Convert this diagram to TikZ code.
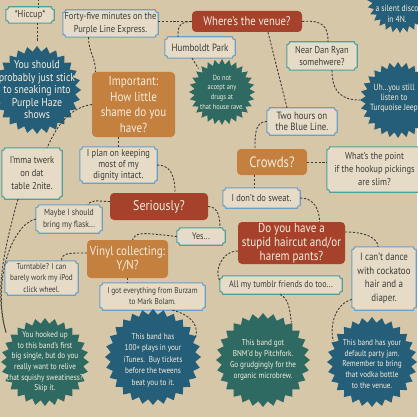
\documentclass[tikz,border=0pt]{standalone}
\usepackage{fontspec}
\setmainfont{PT Sans}[FakeStretch=0.85]
\usetikzlibrary{calc}
\definecolor{paper}{RGB}{214,199,168}
\definecolor{boxfill}{RGB}{229,219,198}
\definecolor{ink}{RGB}{62,60,57}
\definecolor{cream}{RGB}{246,238,222}
\definecolor{redbox}{RGB}{166,66,44}
\definecolor{orangebox}{RGB}{196,128,62}
\definecolor{tealseal}{RGB}{46,106,98}
\definecolor{blueseal}{RGB}{37,94,120}
\definecolor{blueb}{RGB}{108,160,200}
\definecolor{tealb}{RGB}{78,160,158}
\pgfdeclarelayer{paperlayer}
\pgfdeclarelayer{bg}
\pgfsetlayers{paperlayer,bg,main}
\newcommand{\fs}[2]{\fontsize{#1}{#2}\selectfont}
\newcommand{\ticket}[2]{%
\begin{pgfonlayer}{bg}
\draw[line width=1.1pt, draw=#2, fill=boxfill]
  ([xshift=3pt]#1.north west) -- ([xshift=-3pt]#1.north east)
  arc[start angle=180,end angle=270,radius=3pt]
  -- ([yshift=3pt]#1.south east)
  arc[start angle=90,end angle=180,radius=3pt]
  -- ([xshift=3pt]#1.south west)
  arc[start angle=0,end angle=90,radius=3pt]
  -- ([yshift=-3pt]#1.north west)
  arc[start angle=270,end angle=360,radius=3pt] -- cycle;
\end{pgfonlayer}}
\newcommand{\sealshape}[4]{%
\fill[#4, shift={(#1,#2)}] (0:#3) \foreach \i in {1,...,55} { -- ({\i*6.428571}:{#3-5.5*mod(\i,2)}) } -- cycle;}
\begin{document}
\begin{tikzpicture}[x=1pt,y=-1pt,
  lbox/.style={inner sep=0pt, align=center, text=ink},
  cbox/.style={rounded corners=4pt, fill=#1, inner sep=0pt, align=center, text=cream},
  stext/.style={circle, inner sep=0pt, align=center, text=cream},
  conn/.style={draw=ink, line width=0.9pt, dash pattern=on 2.2pt off 1.6pt}]
\begin{pgfonlayer}{paperlayer}
\fill[paper] (0,0) rectangle (417,417);
\end{pgfonlayer}
\useasboundingbox (0,0) rectangle (417,417);

% seals
\sealshape{37}{90}{44}{blueseal}
\node[stext, minimum size=88pt, font=\fs{11.5}{12.5}] (ph) at (37,90) {You should\\probably just stick\\to sneaking into\\Purple Haze\\shows};
\sealshape{222}{92}{33}{tealseal}
\node[stext, minimum size=66pt, font=\fs{7.5}{9.7}] (drugs) at (222,92) {Do not\\accept any\\drugs at\\that house rave.};
\sealshape{400}{0}{33}{blueseal}
\node[inner sep=0pt, align=center, text=cream, font=\fs{9}{11}] (disco) at (397,8) {Time for\\a silent disco\\in 4N.};
\sealshape{398}{100}{38}{blueseal}
\node[stext, minimum size=76pt] (turq) at (398,100) {};
\node[inner sep=0pt, align=center, text=cream, font=\fs{9}{10}] (turqtext) at (394,98) {Uh...you still\\listen to\\Turquoise Jeep};
\sealshape{45}{362}{44}{tealseal}
\node[stext, minimum size=88pt, font=\fs{8.5}{10.6}] (hooked) at (45,362) {You hooked up\\to this band's first\\big single, but do you\\really want to relive\\that squishy sweatiness?\\Skip it.};
\sealshape{153}{357}{48}{blueseal}
\node[stext, minimum size=96pt, font=\fs{8.5}{11.5}] (plays) at (153,360) {This band has\\100+ plays in your\\iTunes.\ \ Buy tickets\\before the tweens\\beat you to it.};
\sealshape{263}{360}{47}{tealseal}
\node[stext, minimum size=94pt, font=\fs{8.5}{11}] (bnm) at (263,360) {This band got\\BNM'd by Pitchfork.\\Go grudgingly for the\\organic microbrew.};
\sealshape{372}{362}{45}{blueseal}
\node[stext, minimum size=90pt, font=\fs{8.5}{10.8}] (jam) at (372,364) {This band has your\\default party jam.\\Remember to bring\\that vodka bottle\\to the venue.};

% light boxes
\node[lbox, minimum width=48pt, minimum height=16pt, font=\fs{10}{12}] (hic) at (30,15) {*Hiccup*};
\ticket{hic}{tealb}
\node[lbox, minimum width=95pt, minimum height=27pt, font=\fs{10}{13.5}] (fortyfive) at (110.5,23.5) {Forty-five minutes on the\\Purple Line Express.};
\ticket{fortyfive}{blueb}
\node[lbox, minimum width=70pt, minimum height=21pt, font=\fs{10.5}{12}] (humboldt) at (200,47.5) {Humboldt Park};
\ticket{humboldt}{blueb}
\node[lbox, minimum width=70pt, minimum height=28pt, font=\fs{10}{11.5}] (nearDan) at (322,56) {Near Dan Ryan\\somehwere?};
\ticket{nearDan}{tealb}
\node[lbox, minimum width=70pt, minimum height=27pt, font=\fs{10.5}{11.5}] (twohours) at (302,121.5) {Two hours on\\the Blue Line.};
\ticket{twohours}{blueb}
\node[lbox, minimum width=95pt, minimum height=45pt, font=\fs{10}{13}] (whatspoint) at (374.5,169.5) {What's the point\\if the hookup pickings\\are slim?};
\ticket{whatspoint}{tealb}
\node[lbox, minimum width=77pt, minimum height=20pt, font=\fs{10}{12}] (sweat) at (261.5,198) {I don't do sweat.};
\ticket{sweat}{blueb}
\node[lbox, minimum width=64pt, minimum height=63pt, font=\fs{10.5}{13.5}] (cantdance) at (384,278.5) {I can't dance\\with cockatoo\\hair and a\\diaper.};
\ticket{cantdance}{blueb}
\node[lbox, minimum width=122pt, minimum height=18pt, font=\fs{9.5}{11}] (tumblr) at (281,285) {All my tumblr friends do too...};
\ticket{tumblr}{tealb}
\node[lbox, minimum width=48pt, minimum height=17pt, font=\fs{9.5}{11}] (yes) at (201,236.5) {Yes...};
\ticket{yes}{tealb}
\node[lbox, minimum width=77pt, minimum height=36pt, font=\fs{10}{11}] (iplan) at (118.5,165) {I plan on keeping\\most of my\\dignity intact.};
\ticket{iplan}{blueb}
\node[lbox, minimum width=60pt, minimum height=51pt, font=\fs{10}{13}] (twerk) at (32,173.5) {I'mma twerk\\on dat\\table 2nite.};
\ticket{twerk}{tealb}
\node[lbox, minimum width=66pt, minimum height=28pt, font=\fs{9}{12}] (maybe) at (69,219) {Maybe I should\\bring my flask...};
\ticket{maybe}{blueb}
\node[lbox, minimum width=73pt, minimum height=34pt, font=\fs{8.5}{11.5}] (turntable) at (41.5,278) {Turntable? I can\\barely work my iPod\\click wheel.};
\ticket{turntable}{blueb}
\node[lbox, minimum width=105pt, minimum height=27pt, font=\fs{8.5}{11}] (burzam) at (152.5,296.5) {I got everything from Burzam\\to Mark Bolam.};
\ticket{burzam}{blueb}

% coloured boxes
\node[cbox=redbox, minimum width=110pt, minimum height=21pt, font=\fs{12.5}{14}] (venue) at (247,21.5) {Where's the venue?};
\node[cbox=orangebox, minimum width=83pt, minimum height=65pt, font=\fs{13}{15.5}] (important) at (133.5,104.5) {Important:\\How little\\shame do you\\have?};
\node[cbox=orangebox, minimum width=70pt, minimum height=26pt, font=\fs{15}{16}] (crowds) at (272,162) {Crowds?};
\node[cbox=redbox, minimum width=107pt, minimum height=42pt, font=\fs{13}{14}] (haircut) at (291.5,243) {Do you have a\\stupid haircut and/or\\harem pants?};
\node[cbox=redbox, minimum width=98pt, minimum height=27pt, font=\fs{14}{15}] (seriously) at (159,206.5) {Seriously?};
\node[cbox=orangebox, minimum width=81pt, minimum height=38pt, font=\fs{13}{14}] (vinyl) at (127.5,259) {Vinyl collecting:\\Y/N?};

% connectors
\coordinate (topA) at (38,-1);
\draw[conn] (topA) -- (topA |- hic.north);
\draw[conn] (hic.south -| ph.north) -- (ph.north);
\draw[conn] (fortyfive.east |- venue.west) -- (venue.west);
\draw[conn] ([xshift=-22pt]fortyfive.south) .. controls +(0,15) and +(0,-15) .. ([xshift=-38pt]important.north);
\draw[conn] (venue.west) .. controls +(-14,0) and +(0,-8) .. ([xshift=-22pt]humboldt.north);
\draw[conn] ([xshift=-8pt]humboldt.south) -- (drugs.135);
\draw[conn] (venue.east) .. controls +(22,-2) and +(0,-14) .. ([xshift=6pt]nearDan.north);
\draw[conn] ([xshift=21pt]venue.south) -- ([xshift=-15pt]twohours.north);
\draw[conn] ([xshift=10pt]nearDan.south) .. controls +(0,22) and +(-18,0) .. (turq.west);
\draw[conn] (twohours.west) .. controls +(-12,0) and +(0,-14) .. ([xshift=-17pt]crowds.north);
\draw[conn] (crowds.east) -- (crowds.east -| whatspoint.west);
\draw[conn] ([xshift=-18pt]crowds.south) -- ([xshift=-18pt]crowds.south |- sweat.north);
\draw[conn] (sweat.east) .. controls +(14,0) and +(0,-12) .. ([xshift=28pt]haircut.north);
\draw[conn] ([yshift=11pt]haircut.east) .. controls +(22,0) and +(0,-8) .. ([xshift=-6pt]cantdance.north);
\draw[conn] ([yshift=-8pt]haircut.west) .. controls +(-16,0) and +(-6,-10) .. ([yshift=4pt]tumblr.west);
\draw[conn] ([xshift=-1pt]tumblr.south) .. controls +(10,6) and +(-2,-12) .. (bnm.53);
\draw[conn] ([yshift=-21pt]cantdance.west) .. controls +(-16,4) and +(-4,-16) .. (jam.149);
\draw[conn] (important.south -| iplan.north) -- (iplan.north);
\draw[conn] (important.west) .. controls +(-28,4) and +(6,-12) .. ([xshift=15pt]twerk.north);
\draw[conn] (iplan.east) .. controls +(14,0) and +(0,-16) .. ([xshift=16pt]seriously.north);
\draw[conn] (seriously.east) .. controls +(10,0) and +(0,-10) .. ([xshift=19pt]yes.north);
\draw[conn] (yes.west) .. controls +(-36,-4) and +(4,-8) .. ([xshift=5pt]vinyl.north);
\draw[conn] ([yshift=5pt]seriously.west) .. controls +(-12,0) and +(4,-6) .. ([xshift=19pt]maybe.north);
\draw[conn] ([xshift=-14pt]twerk.south) .. controls +(-14,50) and +(-12,-40) .. (hooked.143);
\draw[conn] (maybe.west) .. controls +(-25,6) and +(-14,-50) .. (hooked.143);
\draw[conn] ([yshift=6pt]vinyl.west) .. controls +(-18,0) and +(0,-8) .. ([xshift=20pt]turntable.north);
\draw[conn] (vinyl.south) -- (vinyl.south |- burzam.north);
\draw[conn] ([xshift=20pt]burzam.south) .. controls +(16,4) and +(4,-14) .. (plays.28);
\end{tikzpicture}
\end{document}
